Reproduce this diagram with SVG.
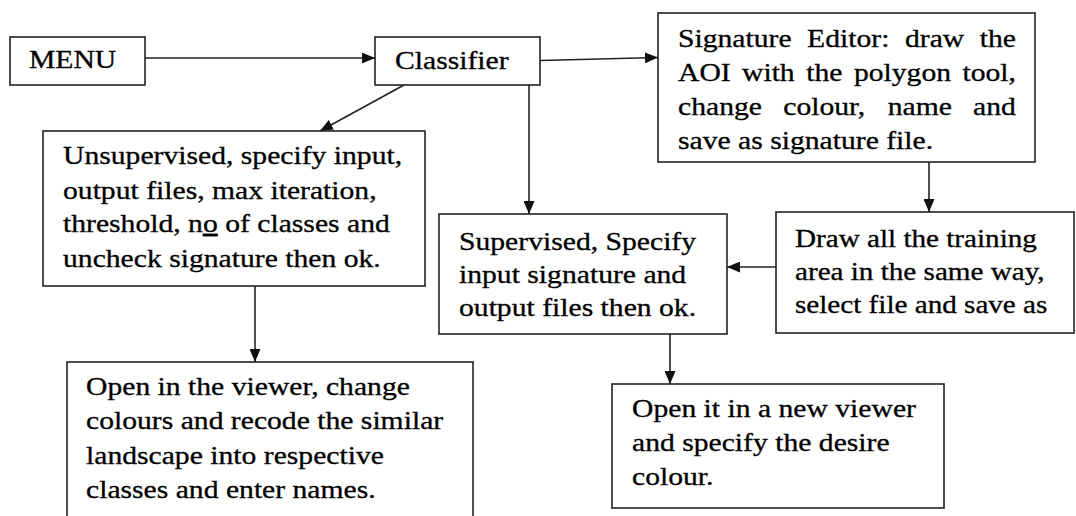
<svg xmlns="http://www.w3.org/2000/svg" width="1076" height="516" viewBox="0 0 1076 516">
  <style>
    .box { fill: #fff; stroke: #222; stroke-width: 1.6; }
    text { font-family: 'Liberation Serif', serif; font-size: 24.5px; fill: #000; stroke: #000; stroke-width: 0.3; }
    .wire { fill: none; stroke: #222; stroke-width: 1.6; marker-end: url(#head); }
    .ul { text-decoration: underline; }
  </style>
  <defs>
    <marker id="head" markerUnits="userSpaceOnUse" markerWidth="13" markerHeight="11" refX="13" refY="5.5" orient="auto">
      <path d="M0,0 L13,5.5 L0,11 z" fill="#111"/>
    </marker>
  </defs>
  <rect width="1076" height="516" fill="#fff"/>

  <!-- connectors -->
  <g id="connectors">
    <line class="wire" x1="145" y1="58" x2="375" y2="58"/>
    <line class="wire" x1="540" y1="60.5" x2="658" y2="57.5"/>
    <line class="wire" x1="404" y1="85" x2="320" y2="131"/>
    <line class="wire" x1="529" y1="85" x2="529" y2="214"/>
    <line class="wire" x1="929" y1="162" x2="929" y2="212"/>
    <line class="wire" x1="776" y1="267" x2="727" y2="267"/>
    <line class="wire" x1="255" y1="286" x2="255" y2="362"/>
    <line class="wire" x1="670" y1="334" x2="670" y2="384"/>
  </g>

  <!-- text is set in a horizontally widened serif (scale ~1.2 on x) -->
  <g id="menu">
    <rect class="box" x="10" y="37" width="135" height="48"/>
    <text font-family="Liberation Serif" transform="translate(29 0) scale(1.21 1)"><tspan x="0" y="68">MENU</tspan></text>
  </g>

  <g id="classifier">
    <rect class="box" x="375" y="37" width="165" height="48"/>
    <text font-family="Liberation Serif" transform="translate(395 0) scale(1.21 1)"><tspan x="0" y="69">Classifier</tspan></text>
  </g>

  <g id="signature-editor">
    <rect class="box" x="658" y="13" width="377" height="149"/>
    <text font-family="Liberation Serif" transform="translate(678 0) scale(1.21 1)">
      <tspan x="0" y="47">Signature</tspan><tspan x="106.7" y="47">Editor:</tspan><tspan x="187.6" y="47">draw</tspan><tspan x="249.4" y="47">the</tspan>
      <tspan x="0" y="81">AOI</tspan><tspan x="52.9" y="81">with</tspan><tspan x="106" y="81">the</tspan><tspan x="145.4" y="81">polygon</tspan><tspan x="235.1" y="81">tool,</tspan>
      <tspan x="0" y="115">change</tspan><tspan x="87" y="115">colour,</tspan><tspan x="173.3" y="115">name</tspan><tspan x="243.9" y="115">and</tspan>
      <tspan x="0" y="149">save as signature file.</tspan>
    </text>
  </g>

  <g id="unsupervised">
    <rect class="box" x="43" y="131" width="382" height="155"/>
    <text font-family="Liberation Serif" transform="translate(63 0) scale(1.21 1)">
      <tspan x="0" y="164">Unsupervised, specify input,</tspan>
      <tspan x="0" y="199">output files, max iteration,</tspan>
      <tspan x="0" y="232">threshold, n<tspan class="ul">o</tspan> of classes and</tspan>
      <tspan x="0" y="267">uncheck signature then ok.</tspan>
    </text>
  </g>

  <g id="supervised">
    <rect class="box" x="439" y="214" width="288" height="120"/>
    <text font-family="Liberation Serif" transform="translate(459 0) scale(1.21 1)">
      <tspan x="0" y="250">Supervised, Specify</tspan>
      <tspan x="0" y="283">input signature and</tspan>
      <tspan x="0" y="316">output files then ok.</tspan>
    </text>
  </g>

  <g id="training-area">
    <rect class="box" x="776" y="212" width="298" height="121"/>
    <text font-family="Liberation Serif" transform="translate(795 0) scale(1.19 1)">
      <tspan x="0" y="247">Draw all the training</tspan>
      <tspan x="0" y="280">area in the same way,</tspan>
      <tspan x="0" y="313">select file and save as</tspan>
    </text>
  </g>

  <g id="recode-classes">
    <rect class="box" x="67" y="362" width="406" height="170"/>
    <text font-family="Liberation Serif" transform="translate(86 0) scale(1.21 1)">
      <tspan x="0" y="395">Open in the viewer, change</tspan>
      <tspan x="0" y="429">colours and recode the similar</tspan>
      <tspan x="0" y="464">landscape into respective</tspan>
      <tspan x="0" y="498">classes and enter names.</tspan>
    </text>
  </g>

  <g id="new-viewer">
    <rect class="box" x="612" y="384" width="332" height="124"/>
    <text font-family="Liberation Serif" transform="translate(632 0) scale(1.21 1)">
      <tspan x="0" y="417">Open it in a new viewer</tspan>
      <tspan x="0" y="451">and specify the desire</tspan>
      <tspan x="0" y="485">colour.</tspan>
    </text>
  </g>
</svg>
